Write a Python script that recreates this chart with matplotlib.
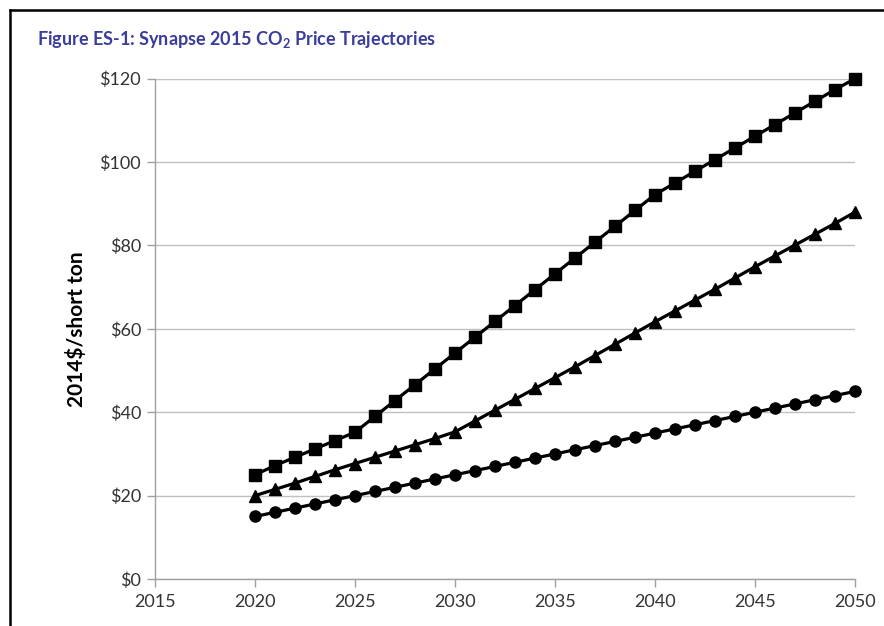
import matplotlib
matplotlib.use("Agg")
import matplotlib.pyplot as plt
from matplotlib.lines import Line2D

plt.rcParams['font.family'] = ['Lato', 'DejaVu Sans']
plt.rcParams['mathtext.fontset'] = 'custom'
plt.rcParams['mathtext.rm'] = 'Lato'
plt.rcParams['mathtext.bf'] = 'Lato:bold'

years = list(range(2020, 2051))
high = [25.0, 27.2, 29.2, 31.2, 33.2, 35.2, 39.0, 42.8, 46.6, 50.4, 54.2,
        58.0, 61.8, 65.6, 69.4, 73.2, 77.0, 80.8, 84.6, 88.4, 92.2,
        95.0, 97.8, 100.6, 103.4, 106.2, 109.0, 111.8, 114.6, 117.4, 120.0]
mid = [20.0, 21.5, 23.0, 24.6, 26.2, 27.7, 29.2, 30.7, 32.2, 33.7, 35.3,
       37.9, 40.5, 43.1, 45.7, 48.3, 50.9, 53.6, 56.3, 59.0, 61.7,
       64.3, 66.9, 69.5, 72.2, 74.9, 77.5, 80.1, 82.7, 85.3, 88.0]
low = [15.0, 16.0, 17.0, 18.0, 19.0, 20.0, 21.0, 22.0, 23.0, 24.0, 25.0,
       26.0, 27.0, 28.0, 29.0, 30.0, 31.0, 32.0, 33.0, 34.0, 35.0,
       36.0, 37.0, 38.0, 39.0, 40.0, 41.0, 42.0, 43.0, 44.0, 45.0]

x_ticks = [2015, 2020, 2025, 2030, 2035, 2040, 2045, 2050]
y_ticks = [0, 20, 40, 60, 80, 100, 120]
y_tick_labels = ['$0', '$20', '$40', '$60', '$80', '$100', '$120']

title = r'Figure ES-1: Synapse 2015 CO$_\mathbf{2}$ Price Trajectories'
ylabel = '2014$/short ton'

fig = plt.figure(figsize=(8.84, 6.26), dpi=100)
ax = fig.add_axes([155/884, 1 - 579/626, 700/884, (579 - 78.7)/626])

for vals, mk, ms in [(high, 's', 8.5), (mid, '^', 8), (low, 'o', 8)]:
    ax.plot(years, vals, color='black', linewidth=2.3, marker=mk,
            markersize=ms, markerfacecolor='black', markeredgecolor='black',
            clip_on=False, zorder=3)

ax.set_xlim(2015, 2050)
ax.set_ylim(0, 120)
ax.set_xticks(x_ticks)
ax.set_yticks(y_ticks)
ax.set_yticklabels(y_tick_labels)
ax.grid(axis='y', color='#c0c0c0', linewidth=1.0)
ax.set_axisbelow(True)
for s in ['top', 'right']:
    ax.spines[s].set_visible(False)
for s in ['left', 'bottom']:
    ax.spines[s].set_color('#a0a0a0')
    ax.spines[s].set_linewidth(1.0)
ax.tick_params(axis='both', colors='#a0a0a0', length=6, width=1.0,
               labelcolor='#333333', labelsize=13)
ax.tick_params(axis='x', pad=5)
ax.tick_params(axis='y', pad=4)

ax.set_ylabel(ylabel, fontsize=15, fontweight='bold', color='black', labelpad=9)

fig.text(37/884, 1 - 40/626, title, fontsize=13, fontweight='bold',
         color='#3b3d9b', ha='left', va='center')

# page frame lines
fig.add_artist(Line2D([10/884, 1], [1 - 10/626, 1 - 10/626], color='black',
                      linewidth=1.8, transform=fig.transFigure))
fig.add_artist(Line2D([10/884, 10/884], [0, 1 - 10/626], color='black',
                      linewidth=1.8, transform=fig.transFigure))

fig.savefig('out.png', dpi=100)
